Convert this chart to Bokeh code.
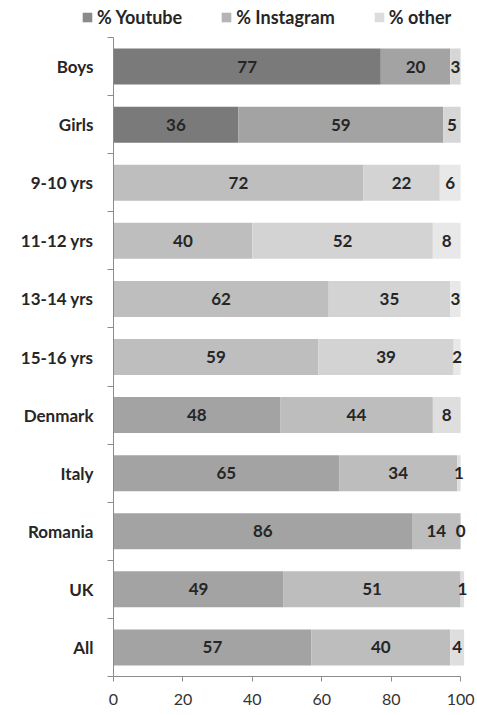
from bokeh.plotting import figure
from bokeh.layouts import column
from bokeh.models import (ColumnDataSource, Range1d, FixedTicker, Legend, LegendItem)
from bokeh.transform import stack
from bokeh.core.properties import value
from bokeh.embed import file_html
from bokeh.resources import INLINE

# ---- data ----
categories = ["Boys", "Girls", "9-10 yrs", "11-12 yrs", "13-14 yrs", "15-16 yrs",
              "Denmark", "Italy", "Romania", "UK", "All"]
groups = ["gender", "gender", "age", "age", "age", "age",
          "country", "country", "country", "country", "country"]
youtube = [77, 36, 72, 40, 62, 59, 48, 65, 86, 49, 57]
instagram = [20, 59, 22, 52, 35, 39, 44, 34, 14, 51, 40]
other = [3, 5, 6, 8, 3, 2, 8, 1, 0, 1, 4]
series_names = ["% Youtube", "% Instagram", "% other"]
x_ticks = [0, 20, 40, 60, 80, 100]

# ---- styles ----
palette = {
    "gender": ["#7a7a7a", "#a3a3a3", "#d6d6d6"],
    "age": ["#bebebe", "#d3d3d3", "#e8e8e8"],
    "country": ["#a3a3a3", "#bdbdbd", "#dedede"],
}
legend_colors = ["#8a8a8a", "#b5b5b5", "#dcdcdc"]
FONT = "Lato"
AXIS_COLOR = "#8c8c8c"
X_MAX = 100
X_PAD = 4  # extra room so edge labels are not clipped
FIG_W = 476
LEG_H = 30

n = len(categories)
ys = list(range(n))
cols = ["yt", "ig", "ot"]
data = dict(y=ys, yt=youtube, ig=instagram, ot=other)
for k, c in enumerate(cols):
    data["c_" + c] = [palette[g][k] for g in groups]
src = ColumnDataSource(data)

fw = int(round(347 * (X_MAX + X_PAD) / X_MAX))
p = figure(output_backend="svg", toolbar_location=None,
           x_range=Range1d(0, X_MAX + X_PAD), y_range=Range1d(n - 0.5, -0.5),
           frame_width=fw, frame_height=639,
           min_border_left=113, min_border_right=FIG_W - 113 - fw,
           min_border_top=37 - LEG_H, min_border_bottom=0)
p.outline_line_color = None
p.xgrid.visible = False
p.ygrid.visible = False

for k, c in enumerate(cols):
    p.hbar(y="y", left=stack(*cols[:k]) if k else 0, right=stack(*cols[:k + 1]),
           height=0.62, fill_color="c_" + c, line_color=None, source=src)

# labels centred in segments
lx, ly, lt = [], [], []
for i in range(n):
    vals = [youtube[i], instagram[i], other[i]]
    acc = 0
    for v in vals:
        lx.append(acc + v / 2)
        ly.append(i)
        lt.append(str(v))
        acc += v
p.text(x=lx, y=ly, text=lt, text_align="center", text_baseline="middle",
       text_font=value(FONT), text_font_style="bold", text_font_size="17px",
       text_color="#262626")

# x axis
xa = p.xaxis[0]
xa.ticker = FixedTicker(ticks=x_ticks)
xa.bounds = (0, X_MAX)
xa.axis_line_color = AXIS_COLOR
xa.major_tick_line_color = AXIS_COLOR
xa.major_tick_out = 5
xa.major_tick_in = 0
xa.minor_tick_line_color = None
xa.major_label_standoff = 12
xa.major_label_text_font = FONT
xa.major_label_text_font_size = "16px"
xa.major_label_text_color = "#333333"

# y axis
ya = p.yaxis[0]
ya.ticker = FixedTicker(ticks=ys, minor_ticks=[i - 0.5 for i in range(n + 1)])
ya.major_label_overrides = {i: c for i, c in enumerate(categories)}
ya.axis_line_color = AXIS_COLOR
ya.major_tick_line_color = None
ya.major_tick_out = 0
ya.major_tick_in = 0
ya.minor_tick_line_color = AXIS_COLOR
ya.minor_tick_out = 6
ya.minor_tick_in = 0
ya.major_label_standoff = 14
ya.major_label_text_font = FONT
ya.major_label_text_font_style = "bold"
ya.major_label_text_font_size = "17px"
ya.major_label_text_color = "#262626"

# ---- legend strip above the chart ----
lf = figure(output_backend="svg", toolbar_location=None,
            x_range=Range1d(0, 1), y_range=Range1d(0, 1),
            frame_width=FIG_W, frame_height=LEG_H,
            min_border_left=0, min_border_right=0, min_border_top=0, min_border_bottom=0)
lf.axis.visible = False
lf.grid.visible = False
lf.outline_line_color = None
items = []
for name, col in zip(series_names, legend_colors):
    r = lf.hbar(y=[0], left=[0], right=[0], height=0.6, fill_color=col, line_color=None)
    items.append(LegendItem(label=name, renderers=[r]))
legend = Legend(items=items, orientation="horizontal", location=(81, 2),
                glyph_width=12, glyph_height=12, label_standoff=4, spacing=38,
                padding=0, margin=0, border_line_color=None, background_fill_alpha=0,
                label_text_font=FONT, label_text_font_style="bold",
                label_text_font_size="18px", label_text_color="#262626")
lf.add_layout(legend, "center")

layout = column(lf, p, spacing=0)
open("out.html", "w").write(file_html(layout, INLINE))
